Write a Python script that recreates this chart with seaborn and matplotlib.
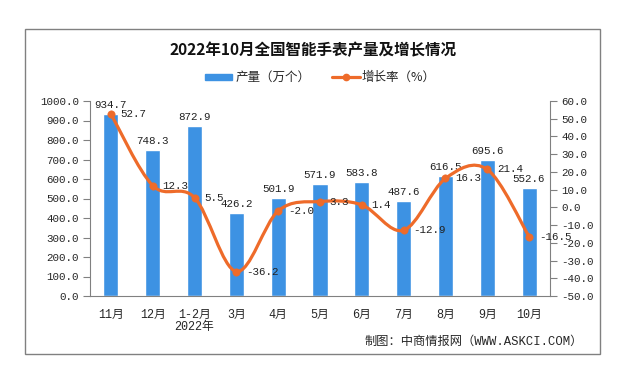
import numpy as np
import matplotlib
matplotlib.use("Agg")
import matplotlib.pyplot as plt
import seaborn as sns
from matplotlib.path import Path
from matplotlib.patches import PathPatch, Rectangle
from matplotlib.lines import Line2D

categories = ["11月", "12月", "1-2月\n2022年", "3月", "4月", "5月", "6月", "7月", "8月", "9月", "10月"]
output = [934.7, 748.3, 872.9, 426.2, 501.9, 571.9, 583.8, 487.6, 616.5, 695.6, 552.6]
growth = [52.7, 12.3, 5.5, -36.2, -2.0, 3.3, 1.4, -12.9, 16.3, 21.4, -16.5]
left_ticks = [0, 100, 200, 300, 400, 500, 600, 700, 800, 900, 1000]
right_ticks = [-50, -40, -30, -20, -10, 0, 10, 20, 30, 40, 50, 60]

title = "2022年10月全国智能手表产量及增长情况"
legend_bar = "产量（万个）"
legend_line = "增长率（%）"
source = "制图：中商情报网（WWW.ASKCI.COM）"

BLUE = "#3d92e3"
ORANGE = "#ee6b2a"
GRAY = "#808080"

sns.set_style("white")
plt.rcParams["font.family"] = ["Liberation Mono", "Noto Sans CJK SC", "DejaVu Sans"]

fig = plt.figure(figsize=(6.36, 3.86), dpi=100)
W, H = 636, 386

# outer frame
fig.patches.append(Rectangle((25 / W, 1 - 354 / H), (600 - 25) / W, (354 - 29) / H,
                             transform=fig.transFigure, fill=False, edgecolor=GRAY, lw=1.0))

ax = fig.add_axes([90 / W, 1 - 296 / H, (550 - 90) / W, (296 - 101) / H])
sns.barplot(x=list(range(len(categories))), y=output, ax=ax, color=BLUE, width=0.36,
            saturation=1.0)
ax.set_xlim(-0.5, len(categories) - 0.5)
ax.set_ylim(0, 1000)
ax.set_yticks(left_ticks)
ax.set_yticklabels([f"{v:.1f}" for v in left_ticks], fontsize=7.8)
ax.set_xticks(range(len(categories)))
ax.set_xticklabels(categories, fontsize=8.5, linespacing=1.05)
ax.set_xticks(np.arange(-0.5, len(categories)), minor=True)
ax.tick_params(axis="x", which="major", length=0, pad=9)
ax.tick_params(axis="x", which="minor", length=5, color=GRAY, width=0.8, direction="out")
ax.tick_params(axis="y", length=5, color=GRAY, width=0.8, direction="out", pad=3, left=True)
ax.set_xlabel("")
ax.set_ylabel("")
for s in ["top", "right"]:
    ax.spines[s].set_visible(False)
for s in ["left", "bottom"]:
    ax.spines[s].set_color(GRAY)
    ax.spines[s].set_linewidth(0.8)

for i, v in enumerate(output):
    ax.annotate(f"{v:.1f}", (i, v), xytext=(0, 3), textcoords="offset points",
                ha="center", va="bottom", fontsize=7.8, color="#222222")

ax2 = ax.twinx()
ax2.set_ylim(-50, 60)
ax2.set_yticks(right_ticks)
ax2.set_yticklabels([f"{v:.1f}" for v in right_ticks], fontsize=7.8)
ax2.tick_params(axis="y", length=5, color=GRAY, width=0.8, direction="out", pad=3, right=True)
for s in ["top", "left", "bottom"]:
    ax2.spines[s].set_visible(False)
ax2.spines["right"].set_color(GRAY)
ax2.spines["right"].set_linewidth(0.8)

# smooth curve through the growth points (Catmull-Rom as cubic Bezier)
xs = np.arange(len(growth), dtype=float)
ys = np.array(growth, dtype=float)
P = np.column_stack([xs, ys])
verts = [tuple(P[0])]
codes = [Path.MOVETO]
n = len(P)
for i in range(n - 1):
    p0 = P[i - 1] if i > 0 else P[i]
    p1 = P[i]
    p2 = P[i + 1]
    p3 = P[i + 2] if i + 2 < n else P[i + 1]
    c1 = p1 + (p2 - p0) / 6.0
    c2 = p2 - (p3 - p1) / 6.0
    verts += [tuple(c1), tuple(c2), tuple(p2)]
    codes += [Path.CURVE4] * 3
ax2.add_patch(PathPatch(Path(verts, codes), fill=False, edgecolor=ORANGE, lw=2.3,
                        capstyle="round", joinstyle="round", zorder=3))
sns.scatterplot(x=xs, y=ys, ax=ax2, color=ORANGE, s=28, edgecolor=ORANGE, zorder=4, legend=False)

for i, v in enumerate(growth):
    ax2.annotate(f"{v:.1f}", (i, v), xytext=(7, 0), textcoords="offset points",
                 ha="left", va="center", fontsize=7.8, color="#222222", zorder=5)

# title
fig.text(313 / W, 1 - 50 / H, title, ha="center", va="center", fontsize=11.2,
         fontweight="bold", family=["Noto Sans CJK SC", "DejaVu Sans"], color="#111111")

# legend
fig.patches.append(Rectangle((205 / W, 1 - 79.5 / H), 27 / W, 5 / H,
                             transform=fig.transFigure, color=BLUE))
fig.text(236 / W, 1 - 77 / H, legend_bar, ha="left", va="center", fontsize=9,
         family=["Noto Sans CJK SC", "DejaVu Sans"])
fig.lines.append(Line2D([332 / W, 360 / W], [1 - 77 / H, 1 - 77 / H], transform=fig.transFigure,
                        color=ORANGE, lw=2.3))
fig.lines.append(Line2D([346 / W], [1 - 77 / H], transform=fig.transFigure, color=ORANGE,
                        marker="o", markersize=4.5))
fig.text(362 / W, 1 - 77 / H, legend_line, ha="left", va="center", fontsize=9,
         family=["Noto Sans CJK SC", "DejaVu Sans"])

# source
fig.text(583 / W, 1 - 342 / H, source, ha="right", va="center", fontsize=8.8,
         family=["Liberation Mono", "Noto Sans CJK SC", "DejaVu Sans"])

fig.savefig("out.png", dpi=100)
